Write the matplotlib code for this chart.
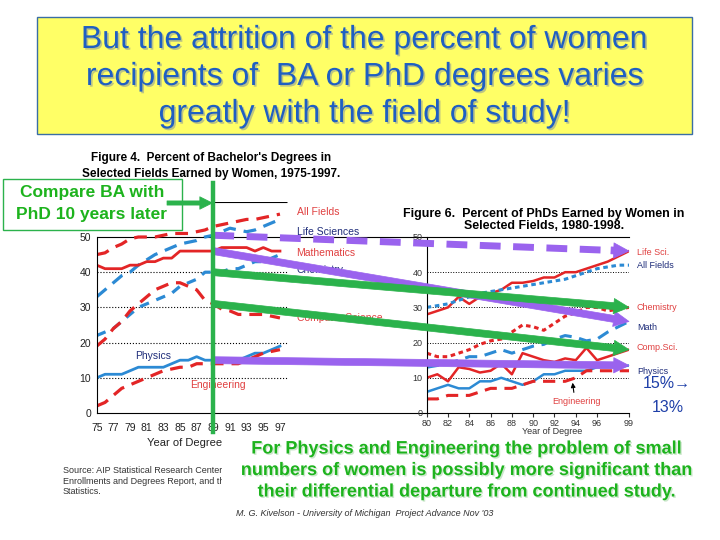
import numpy as np
import matplotlib
matplotlib.use('Agg')
import matplotlib.pyplot as plt
import matplotlib.patheffects as pe
from matplotlib.patches import Rectangle
from matplotlib.transforms import Bbox

plt.rcParams['font.family'] = ['Liberation Sans', 'DejaVu Sans']

# Figure 4: percent of bachelor's degrees earned by women, 1975-1997
ba_years = np.arange(75, 98)
ba_all = [45, 45.5, 47, 48, 49.5, 50, 50, 50, 50.5, 51, 51, 51, 51.5, 52, 53, 53.5, 54, 54.5, 55, 55, 55.5, 56, 56.5]
ba_life = [33, 35, 37, 39, 40, 42, 43.5, 45, 46, 47, 48, 48.5, 49, 50, 50.5, 51.5, 52.5, 52, 51.5, 52, 53, 54, 55]
ba_math = [42, 41, 41, 41, 42, 42, 43, 43, 44, 44, 46, 46, 46, 46, 46, 47, 47, 47, 47, 46, 47, 46, 46]
ba_chem = [22, 23, 24, 26, 28, 30, 31, 32, 33, 34, 36, 37, 38, 40, 40, 40, 41, 41, 42, 43, 43, 44, 45]
ba_cs = [19, 21, 24, 26, 29, 31, 33, 35, 36, 37, 37, 36, 35, 32, 31, 29.5, 29, 28, 28, 28, 28, 27.5, 27]
ba_phys = [10, 11, 11, 11, 12, 13, 13, 13, 13, 14, 15, 15, 16, 15, 15, 15, 15, 15, 16, 17, 17, 18, 19]
ba_eng = [2, 3, 5, 7, 8, 9, 10, 11, 12, 12.5, 13, 13, 14, 14, 14, 14, 14, 14, 15, 16, 17, 17.5, 18]
ba_xticks = [75, 77, 79, 81, 83, 85, 87, 89, 91, 93, 95, 97]

# Figure 6: percent of PhDs earned by women, 1980-1999
phd_years = np.arange(80, 100)
phd_life = [28, 29, 30, 33, 31, 33, 34, 35, 37, 37, 37.5, 38.5, 38.5, 40, 40, 41, 42, 43, 44.5, 46]
phd_all = [30, 30.5, 31, 32, 33, 34, 34.5, 35, 35.5, 36, 36.5, 37, 37.5, 38, 39, 40, 41, 41.5, 42, 42]
phd_chem = [17, 16, 16, 17, 18, 19.5, 20.5, 21, 23, 25, 24.5, 23.5, 25.5, 27.5, 28.5, 30, 30, 29, 29.5, 30]
phd_math = [13, 13.5, 14, 15, 16, 16, 17, 18, 17, 18, 19, 19.5, 21, 22, 21.5, 20.5, 21, 23, 24.5, 26]
phd_cs = [10, 11, 9, 13, 12.5, 11.5, 12, 14, 11, 17, 16, 15, 14.5, 15.5, 15, 18.5, 15, 16, 17, 18]
phd_phys = [6, 7, 8, 7, 7, 9, 9, 10, 9, 8, 9, 11, 11, 12, 12, 12, 13, 13, 13, 13.5]
phd_eng = [4, 4, 5, 5, 5, 6, 7, 7, 7, 8, 9, 9, 9, 9, 10, 12, 12, 12, 12, 12]
phd_xticks = [80, 82, 84, 86, 88, 90, 92, 94, 96, 99]

RED = '#E32526'
BLUE = '#2C8AD4'
NAVY = '#1F2D7A'
LRED = '#E04040'
PURPLE = '#9A63EE'
GREEN = '#2BB24C'
TGREEN = '#1DB31D'
DASH = (0, (4, 2.5))
DOT = (0, (1.5, 1.2))

fig = plt.figure(figsize=(7.2, 5.4), dpi=100)


def box(l, t, r, b):
    # pixel box (from top left) -> figure fraction
    return [l / 720, 1 - b / 540, (r - l) / 720, (b - t) / 540]


axL = fig.add_axes(box(96.7, 201.8, 427, 413))
axR = fig.add_axes(box(426.7, 237, 629, 413))
ov = fig.add_axes([0, 0, 1, 1], zorder=5)
for a in (axL, axR, ov):
    a.set_facecolor('none')
ov.set_xlim(0, 720)
ov.set_ylim(540, 0)
ov.axis('off')

# ---- left chart (BA) ----
axL.set_xlim(75, 75 + (427 - 96.7) / 8.33)
axL.set_ylim(0, 60)
axL.hlines([10, 20, 30, 40], 75, 97.8, colors='k', linestyles=':', lw=0.8)
axL.hlines([60], 75, 97.8, colors='k', lw=0.8)
axL.axhline(50, color='k', lw=0.8)
axL.plot(ba_years, ba_all, color=RED, lw=2.3, ls=DASH)
axL.plot(ba_years, ba_life, color=BLUE, lw=2.3, ls=DASH)
axL.plot(ba_years, ba_math, color=RED, lw=2.0)
axL.plot(ba_years, ba_chem, color=BLUE, lw=2.3, ls=(0, (3, 2.5)))
axL.plot(ba_years, ba_cs, color=RED, lw=2.3, ls=DASH)
axL.plot(ba_years, ba_phys, color=BLUE, lw=2.0)
axL.plot(ba_years, ba_eng, color=RED, lw=2.3, ls=DASH)
for s in ('top', 'right'):
    axL.spines[s].set_visible(False)
axL.spines['left'].set_bounds(0, 50)
axL.spines['left'].set_linewidth(0.8)
axL.spines['bottom'].set_linewidth(0.8)
axL.set_xticks(ba_xticks)
axL.set_xticks([85, 91, 97], minor=True)
axL.set_yticks(range(0, 51, 10))
axL.tick_params(axis='x', which='major', length=0, pad=7, labelsize=7.5, colors='#222222')
axL.tick_params(axis='x', which='minor', length=4, direction='out')
axL.tick_params(axis='y', length=0, pad=4, labelsize=7.5, colors='#222222')
lab = dict(fontsize=7.5, va='center')
axL.text(99.0, 57.1, 'All Fields', color=LRED, **lab)
axL.text(99.0, 51.4, 'Life Sciences', color=NAVY, **lab)
axL.text(99.0, 45.5, 'Mathematics', color=LRED, **lab)
axL.text(99.0, 40.6, 'Chemistry', color=NAVY, **lab)
axL.text(99.0, 27.0, 'Computer Science', color=LRED, **lab)
axL.text(79.6, 16.2, 'Physics', color=NAVY, **lab)
axL.text(86.2, 8.0, 'Engineering', color=LRED, **lab)

# ---- right chart (PhD) ----
axR.set_xlim(80, 99)
axR.set_ylim(0, 50)
axR.hlines([10, 20, 30, 40], 80, 99, colors='k', linestyles=':', lw=0.7)
axR.plot(phd_years, phd_life, color=RED, lw=1.8)
axR.plot(phd_years, phd_all, color=BLUE, lw=2.2, ls=DOT)
axR.plot(phd_years, phd_chem, color=RED, lw=2.2, ls=DOT)
axR.plot(phd_years, phd_math, color=BLUE, lw=2.2, ls=DASH)
axR.plot(phd_years, phd_cs, color=RED, lw=1.8)
axR.plot(phd_years, phd_phys, color=BLUE, lw=1.8)
axR.plot(phd_years, phd_eng, color=RED, lw=2.2, ls=DASH)
axR.spines['right'].set_visible(False)
for s in ('top', 'left', 'bottom'):
    axR.spines[s].set_linewidth(0.8)
axR.set_xticks(phd_xticks)
axR.set_yticks(range(0, 51, 10))
axR.tick_params(axis='x', length=3, pad=1.5, labelsize=6.5, colors='#333333')
axR.tick_params(axis='y', length=0, pad=3, labelsize=6.5, colors='#333333')
lab = dict(fontsize=6.5, va='center')
axR.text(99.75, 45.5, 'Life Sci.', color=LRED, **lab)
axR.text(99.75, 41.8, 'All Fields', color=NAVY, **lab)
axR.text(99.75, 30.1, 'Chemistry', color=LRED, **lab)
axR.text(99.75, 24.4, 'Math', color=NAVY, **lab)
axR.text(99.75, 18.75, 'Comp.Sci.', color=LRED, **lab)
axR.text(99.75, 11.9, 'Physics', color=NAVY, **lab)
axR.annotate('Engineering', xy=(93.7, 8.6), xytext=(94.1, 3.4), ha='center', va='center',
             fontsize=6.5, color=LRED,
             arrowprops=dict(arrowstyle='-|>', color='black', lw=0.8, relpos=(0.45, 1),
                             shrinkA=1, shrinkB=0))


def px(ax, x, y):
    return ov.transData.inverted().transform(ax.transData.transform((x, y)))


# ---- slide decorations ----
ov.add_patch(Rectangle((37, 17), 655, 117, fc='#FFFF66', ec='#3A6EA5', lw=1, zorder=1))
shadow = [pe.withSimplePatchShadow(offset=(1.2, -1.2), shadow_rgbFace='#7a8aa0', alpha=0.5)]
title_lines = ['But the attrition of the percent of women',
               'recipients of  BA or PhD degrees varies',
               'greatly with the field of study!']
for i, t in enumerate(title_lines):
    ov.text(365, 40 + 37 * i, t, ha='center', va='center', fontsize=23, color='#1F5FC2',
            path_effects=shadow, zorder=2)

ov.text(211, 158, "Figure 4.  Percent of Bachelor's Degrees in", ha='center', va='center',
        fontsize=8.5, weight='bold')
ov.text(211, 174, 'Selected Fields Earned by Women, 1975-1997.', ha='center', va='center',
        fontsize=8.5, weight='bold')
ov.text(544, 214, 'Figure 6.  Percent of PhDs Earned by Women in', ha='center', va='center',
        fontsize=8.9, weight='bold')
ov.text(544, 226, 'Selected Fields, 1980-1998.', ha='center', va='center',
        fontsize=8.9, weight='bold')

ov.text(185, 443, 'Year of Degree', ha='center', va='center', fontsize=8, color='#222222')
ov.text(552, 432, 'Year of Degree', ha='center', va='center', fontsize=6.5, color='#333333')
# source note, cut off by the text block as on the slide
src = ['Source: AIP Statistical Research Center,',
       'Enrollments and Degrees Report, and the',
       'Statistics.']
for i, t in enumerate(src):
    s = ov.text(63, 470 + 11 * i, t, va='center', fontsize=6.5, color='#333333')
    s.set_clip_box(Bbox.from_extents(0, 0, 222, 540))
    s.set_clip_on(True)

gshadow = [pe.withSimplePatchShadow(offset=(1, -1), shadow_rgbFace='#9ad09a', alpha=0.5)]
bottom = ['For Physics and Engineering the problem of small',
          'numbers of women is possibly more significant than',
          'their differential departure from continued study.']
for i, t in enumerate(bottom):
    ov.text(466, 449 + 21.5 * i, t, ha='center', va='center', fontsize=13, weight='bold',
            color=TGREEN, path_effects=gshadow, zorder=2)
ov.text(365, 514, "M. G. Kivelson - University of Michigan  Project Advance Nov '03",
        ha='center', va='center', fontsize=6.5, style='italic', color='#333333')

ov.text(643, 383, '15%\u2192', va='center', fontsize=11.5, color='#1E3FA8')
ov.text(652, 407, '13%', va='center', fontsize=11.5, color='#1E3FA8')

# BA -> PhD comparison arrows (BA 1989 vs PhD ten years later)
head = 'simple,head_length=1.1,head_width=1.1,tail_width=0.5'
pairs = [(ba_math, phd_math, PURPLE), (ba_chem, phd_chem, GREEN),
         (ba_cs, phd_cs, GREEN), (ba_phys, phd_phys, PURPLE)]
i89 = list(ba_years).index(89)
for ba, phd, c in pairs:
    p0 = px(axL, 89, ba[i89])
    p1 = px(axR, 99, phd[-1])
    ov.annotate('', xy=p1, xytext=p0,
                arrowprops=dict(arrowstyle=head, color=c, lw=0.5, mutation_scale=10,
                                shrinkA=0, shrinkB=0), zorder=3)
# life sciences: dashed shaft
p0 = px(axL, 89, ba_life[i89])
p1 = px(axR, 99, phd_life[-1])
d = (p1 - p0) / np.hypot(*(p1 - p0))
pb = p1 - d * 14
ov.plot([p0[0], pb[0]], [p0[1], pb[1]], color=PURPLE, lw=5, ls=(0, (3, 1.8)), zorder=3,
        solid_capstyle='butt')
ov.annotate('', xy=p1, xytext=p1 - d * 18,
            arrowprops=dict(arrowstyle=head, color=PURPLE, lw=0.5, mutation_scale=10,
                            shrinkA=0, shrinkB=0), zorder=3)

# vertical marker at 1989 and the callout box
xv = px(axL, 89, 0)[0]
ov.plot([xv, xv], [183, 432], color=GREEN, lw=3.2, zorder=4)
ov.add_patch(Rectangle((3, 179), 179, 51, fc='white', ec=GREEN, lw=1, zorder=4))
ov.text(92, 193, 'Compare BA with', ha='center', va='center', fontsize=12.5, weight='bold',
        color=TGREEN, zorder=5)
ov.text(92, 215, 'PhD 10 years later', ha='center', va='center', fontsize=12.5, weight='bold',
        color=TGREEN, zorder=5)
ov.annotate('', xy=(xv - 1, 203), xytext=(167, 203),
            arrowprops=dict(arrowstyle='simple,head_length=0.9,head_width=0.9,tail_width=0.3',
                            color=GREEN, lw=0.5, mutation_scale=10, shrinkA=0, shrinkB=0),
            zorder=5)

fig.savefig('out.png', dpi=100)
